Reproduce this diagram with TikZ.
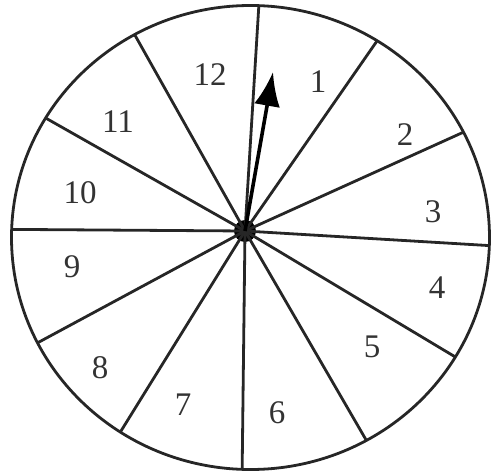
\documentclass[tikz,border=0pt]{standalone}
\usepackage{fontspec}
\setmainfont{Liberation Serif}
\usetikzlibrary{arrows.meta,calc}

\begin{document}
\begin{tikzpicture}[
  x=1pt,y=1pt,
  rim/.style={draw, line width=2.8pt, draw=black!85},
  spoke/.style={line width=2.8pt, draw=black!85},
  num/.style={font=\fontsize{33}{33}\selectfont, inner sep=0pt, text=black!80},
  pointer/.style={-{Latex[length=34pt,width=26pt]}, line width=3.6pt}
]
\useasboundingbox (0,0) rectangle (493,475);
\coordinate (ctr) at (250.5,237.5);
\draw[rim] (ctr) ellipse [x radius=239pt, y radius=232pt];
\node[circle, fill, inner sep=0pt, minimum size=22pt] (hub) at (245,244) {};
\foreach \a [count=\i] in {88,58,27,-2,-31,-61,-92,-123,-153,178,149,119}{
  \coordinate (s\i) at ($(ctr)+(\a:239pt and 232pt)$);
  \draw[spoke] (hub.center) -- (s\i);
}
\foreach \t/\x/\y in {12/210/400, 1/318/393, 2/405/340, 3/433/263, 4/437/187, 5/372/128,
  6/277/62, 7/183/70, 8/100/107, 9/72/208, 10/80/282, 11/118/353}{
  \node[num] (n\t) at (\x,\y) {\t};
}
\coordinate (tip) at (273,403);
\draw[pointer] (hub.center) -- (tip);
\end{tikzpicture}
\end{document}
